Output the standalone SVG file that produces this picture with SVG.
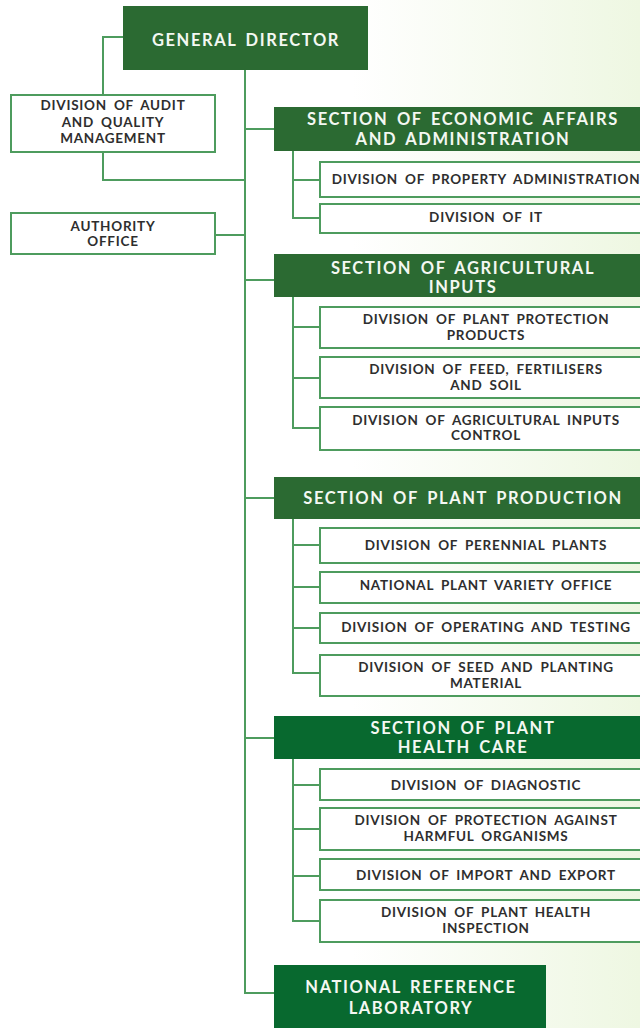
<svg xmlns="http://www.w3.org/2000/svg" width="640" height="1028" viewBox="0 0 640 1028">
<defs>
<linearGradient id="bg" x1="0" y1="0" x2="1" y2="0">
<stop offset="0" stop-color="#ffffff"/>
<stop offset="0.55" stop-color="#ffffff"/>
<stop offset="1" stop-color="#eef7e2"/>
</linearGradient>
<style>
.sec{fill:#2b6a32}
.sec2{fill:#08692f}
.box{fill:#ffffff;stroke:#4e9c5e;stroke-width:2}
.ln{fill:none;stroke:#4e9c5e;stroke-width:2}
text{font-family:Lato,"Open Sans","DejaVu Sans",sans-serif;font-weight:700;text-anchor:middle}
.wt{fill:#f4f8f2;font-size:16.5px;letter-spacing:1.6px;word-spacing:3px}
.dt{fill:#2e2e2e;font-size:13.5px;letter-spacing:0.75px;word-spacing:3px}
</style>
</defs>
<rect width="640" height="1028" fill="url(#bg)"/>
<g id="connectors">
<path class="ln" d="M123 37H103V95"/>
<path class="ln" d="M103 152V180H245"/>
<path class="ln" d="M215 235H245"/>
<path class="ln" d="M245 70V993H274"/>
<path class="ln" d="M245 129H274"/>
<path class="ln" d="M245 280H274"/>
<path class="ln" d="M245 498H274"/>
<path class="ln" d="M245 738H274"/>
<path class="ln" d="M293 151V218H320M293 180H320"/>
<path class="ln" d="M293 297V428H320M293 327H320M293 378H320"/>
<path class="ln" d="M293 519V673H320M293 545H320M293 587H320M293 628H320"/>
<path class="ln" d="M293 759V921H320M293 785H320M293 829H320M293 876H320"/>
</g>
<g id="general-director"><rect class="sec" x="123" y="6" width="245" height="64"/><text class="wt" x="246" y="46">GENERAL DIRECTOR</text></g>
<g id="audit"><rect class="box" x="11" y="95" width="204" height="57"/><text class="dt" x="113" y="110">DIVISION OF AUDIT</text><text class="dt" x="113" y="127">AND QUALITY</text><text class="dt" x="113" y="143">MANAGEMENT</text></g>
<g id="authority"><rect class="box" x="11" y="213" width="204" height="41"/><text class="dt" x="113" y="231">AUTHORITY</text><text class="dt" x="113" y="246">OFFICE</text></g>
<g id="sec-economic"><rect class="sec" x="274" y="107" width="380" height="44"/><text class="wt" x="463" y="125">SECTION OF ECONOMIC AFFAIRS</text><text class="wt" x="463" y="145">AND ADMINISTRATION</text></g>
<g id="div-property"><rect class="box" x="320" y="162" width="340" height="35"/><text class="dt" x="486" y="184">DIVISION OF PROPERTY ADMINISTRATION</text></g>
<g id="div-it"><rect class="box" x="320" y="204" width="340" height="29"/><text class="dt" x="486" y="222">DIVISION OF IT</text></g>
<g id="sec-agri"><rect class="sec" x="274" y="254" width="380" height="43"/><text class="wt" x="463" y="274">SECTION OF AGRICULTURAL</text><text class="wt" x="463" y="293">INPUTS</text></g>
<g id="div-ppp"><rect class="box" x="320" y="307" width="340" height="41"/><text class="dt" x="486" y="324">DIVISION OF PLANT PROTECTION</text><text class="dt" x="486" y="340">PRODUCTS</text></g>
<g id="div-feed"><rect class="box" x="320" y="357" width="340" height="41"/><text class="dt" x="486" y="374">DIVISION OF FEED, FERTILISERS</text><text class="dt" x="486" y="390">AND SOIL</text></g>
<g id="div-aic"><rect class="box" x="320" y="407" width="340" height="43"/><text class="dt" x="486" y="425">DIVISION OF AGRICULTURAL INPUTS</text><text class="dt" x="486" y="440">CONTROL</text></g>
<g id="sec-production"><rect class="sec" x="274" y="477" width="380" height="42"/><text class="wt" x="463" y="504">SECTION OF PLANT PRODUCTION</text></g>
<g id="div-perennial"><rect class="box" x="320" y="528" width="340" height="35"/><text class="dt" x="486" y="550">DIVISION OF PERENNIAL PLANTS</text></g>
<g id="div-variety"><rect class="box" x="320" y="572" width="340" height="31"/><text class="dt" x="486" y="590">NATIONAL PLANT VARIETY OFFICE</text></g>
<g id="div-operating"><rect class="box" x="320" y="613" width="340" height="30"/><text class="dt" x="486" y="632">DIVISION OF OPERATING AND TESTING</text></g>
<g id="div-seed"><rect class="box" x="320" y="655" width="340" height="41"/><text class="dt" x="486" y="672">DIVISION OF SEED AND PLANTING</text><text class="dt" x="486" y="688">MATERIAL</text></g>
<g id="sec-health"><rect class="sec2" x="274" y="716" width="380" height="43"/><text class="wt" x="463" y="734">SECTION OF PLANT</text><text class="wt" x="463" y="753">HEALTH CARE</text></g>
<g id="div-diagnostic"><rect class="box" x="320" y="769" width="340" height="31"/><text class="dt" x="486" y="790">DIVISION OF DIAGNOSTIC</text></g>
<g id="div-protection"><rect class="box" x="320" y="808" width="340" height="42"/><text class="dt" x="486" y="825">DIVISION OF PROTECTION AGAINST</text><text class="dt" x="486" y="841">HARMFUL ORGANISMS</text></g>
<g id="div-import"><rect class="box" x="320" y="859" width="340" height="31"/><text class="dt" x="486" y="880">DIVISION OF IMPORT AND EXPORT</text></g>
<g id="div-inspection"><rect class="box" x="320" y="900" width="340" height="42"/><text class="dt" x="486" y="917">DIVISION OF PLANT HEALTH</text><text class="dt" x="486" y="933">INSPECTION</text></g>
<g id="nrl"><rect class="sec2" x="274" y="965" width="272" height="70"/><text class="wt" x="411" y="993">NATIONAL REFERENCE</text><text class="wt" x="411" y="1014">LABORATORY</text></g>
</svg>
